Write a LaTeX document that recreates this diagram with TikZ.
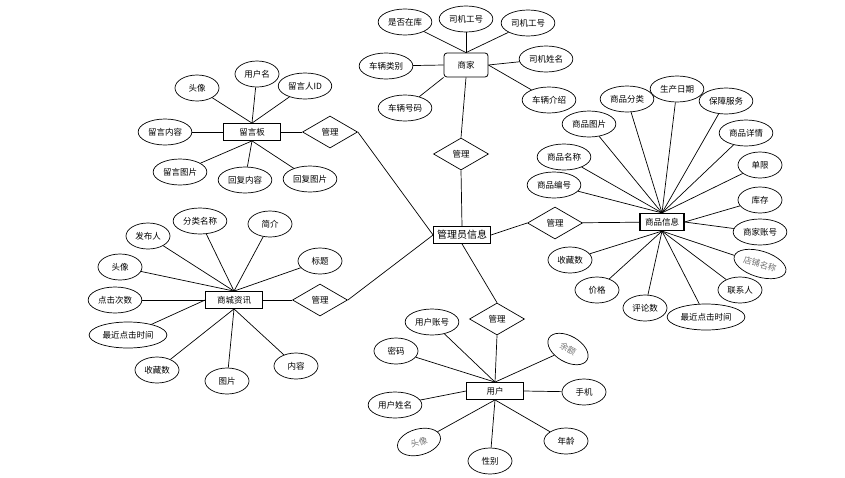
\documentclass[tikz,border=0pt]{standalone}
\usepackage{fontspec}
\setmainfont{Noto Sans CJK SC}
\usetikzlibrary{shapes.geometric}

\begin{document}
\begin{tikzpicture}[
  x=1pt, y=-1pt,
  font=\fontsize{8.5}{10}\selectfont,
  ent/.style={draw, line width=0.8pt, fill=white, minimum width=57pt, minimum height=17pt, inner sep=1pt},
  attr/.style={draw, ellipse, line width=0.7pt, fill=white, minimum width=44pt, minimum height=26pt, inner xsep=2pt, inner ysep=1pt},
  faded/.style={attr, text=gray!90!black},
  rel/.style={draw, diamond, line width=0.7pt, fill=white, minimum width=55pt, minimum height=32pt, inner sep=0pt},
  link/.style={line width=0.7pt}
]
\useasboundingbox (0,0) rectangle (845,477);
% entities
\node[ent, rounded corners=3pt, minimum width=44pt, minimum height=24pt] (shangjia) at (466,65) {商家};
\node[ent] (liuyan) at (252,132) {留言板};
\node[ent] (zixun) at (234,300) {商城资讯};
\node[ent, font=\fontsize{10}{12}\selectfont] (admin) at (462,235) {管理员信息};
\node[ent, line width=1.2pt, minimum width=44pt] (goods) at (662,222) {商品信息};
\node[ent] (user) at (495,391) {用户};
% relations
\node[rel] (r-shangjia) at (461,154) {管理};
\node[rel] (r-liuyan) at (330,132) {管理};
\node[rel] (r-zixun) at (320,300) {管理};
\node[rel] (r-goods) at (555,223) {管理};
\node[rel] (r-user) at (497,319) {管理};
\draw[link] (shangjia.south) -- (r-shangjia.north);
\draw[link] (r-shangjia.south) -- (admin.north);
\draw[link] (liuyan) -- (r-liuyan);
\draw[link] (r-liuyan.east) -- (admin.west);
\draw[link] (zixun) -- (r-zixun);
\draw[link] (r-zixun.east) -- (admin.west);
\draw[link] (admin.east) -- (r-goods.west);
\draw[link] (r-goods) -- (goods);
\draw[link] (admin.south) -- (r-user.north);
\draw[link] (r-user.south) -- (user.north);
% shangjia attributes
\node[attr] (sj1) at (405,22) {是否在库};
\node[attr] (sj2) at (466,19) {司机工号};
\node[attr] (sj3) at (528,23) {司机工号};
\node[attr] (sj4) at (386,66) {车辆类别};
\node[attr] (sj5) at (546,59) {司机姓名};
\node[attr] (sj6) at (549,100) {车辆介绍};
\node[attr] (sj7) at (405,108) {车辆号码};
% liuyan attributes
\node[attr] (ly1) at (197,88) {头像};
\node[attr] (ly2) at (257,74) {用户名};
\node[attr] (ly3) at (305,86) {留言人ID};
\node[attr] (ly4) at (165,132) {留言内容};
\node[attr] (ly5) at (180,172) {留言图片};
\node[attr] (ly6) at (245,180) {回复内容};
\node[attr] (ly7) at (310,179) {回复图片};
% zixun attributes
\node[attr] (zx1) at (148,236) {发布人};
\node[attr] (zx2) at (200,221) {分类名称};
\node[attr] (zx3) at (270,224) {简介};
\node[attr] (zx4) at (120,267) {头像};
\node[attr] (zx5) at (320,261) {标题};
\node[attr] (zx6) at (115,300) {点击次数};
\node[attr] (zx7) at (128,335) {最近点击时间};
\node[attr] (zx8) at (157,370) {收藏数};
\node[attr] (zx9) at (227,381) {图片};
\node[attr] (zx10) at (296,366) {内容};
% goods attributes
\node[attr] (sp1) at (589,124) {商品图片};
\node[attr] (sp2) at (627,99) {商品分类};
\node[attr] (sp3) at (677,89) {生产日期};
\node[attr] (sp4) at (726,101) {保障服务};
\node[attr] (sp5) at (746,133) {商品详情};
\node[attr] (sp6) at (564,157) {商品名称};
\node[attr] (sp7) at (760,165) {单限};
\node[attr] (sp8) at (554,185) {商品编号};
\node[attr] (sp9) at (760,200) {库存};
\node[attr] (sp10) at (760,232) {商家账号};
\node[faded, rotate=-17] (sp11) at (760,264) {店铺名称};
\node[attr] (sp12) at (570,260) {收藏数};
\node[attr] (sp13) at (740,290) {联系人};
\node[attr] (sp14) at (597,290) {价格};
\node[attr] (sp15) at (645,308) {评论数};
\node[attr] (sp16) at (706,317) {最近点击时间};
% user attributes
\node[attr] (yh1) at (432,322) {用户账号};
\node[attr] (yh2) at (396,351) {密码};
\node[faded, rotate=-30] (yh3) at (568,349) {余额};
\node[attr] (yh4) at (584,392) {手机};
\node[attr] (yh5) at (395,405) {用户姓名};
\node[faded, rotate=15] (yh6) at (419,442) {头像};
\node[attr] (yh7) at (490,461) {性别};
\node[attr] (yh8) at (566,441) {年龄};
% attribute links
\foreach \a/\b in {sj1/shangjia.north, sj2/shangjia.north, sj3/shangjia.north, sj4/shangjia.west, sj5/shangjia.east, sj6/shangjia.east, sj7/shangjia.south west}{\draw[link] (\a) -- (\b);}
\foreach \a/\b in {ly1/liuyan.north, ly2/liuyan.north, ly3/liuyan.north, ly4/liuyan.west, ly5/liuyan.south, ly6/liuyan.south, ly7/liuyan.south}{\draw[link] (\a) -- (\b);}
\foreach \a/\b in {zx1/zixun.north, zx2/zixun.north, zx3/zixun.north, zx4/zixun.north, zx5/zixun.north, zx6/zixun.west, zx7/zixun.west, zx8/zixun.south, zx9/zixun.south, zx10/zixun.south}{\draw[link] (\a) -- (\b);}
\foreach \a in {sp1, sp2, sp3, sp4, sp5, sp6, sp7, sp8}{\draw[link] (\a) -- (goods.north);}
\foreach \a in {sp9, sp10}{\draw[link] (\a) -- (goods.east);}
\foreach \a in {sp11, sp12, sp13, sp14, sp15, sp16}{\draw[link] (\a) -- (goods.south);}
\foreach \a/\b in {yh1/user.north, yh2/user.north, yh3/user.north, yh4/user.east, yh5/user.west, yh6/user.south, yh7/user.south, yh8/user.south}{\draw[link] (\a) -- (\b);}
\end{tikzpicture}
\end{document}
